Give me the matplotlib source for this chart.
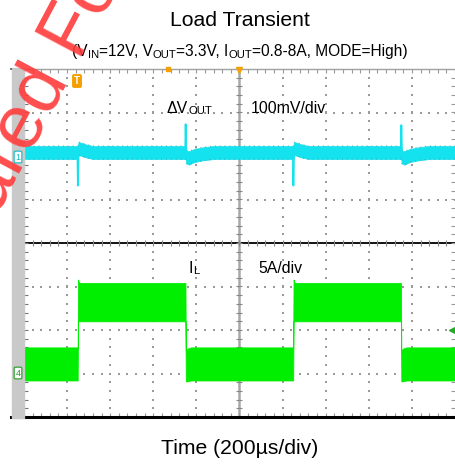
import matplotlib
matplotlib.use("Agg")
import matplotlib.pyplot as plt
from matplotlib.font_manager import FontProperties
from matplotlib.patches import Rectangle
import numpy as np

plt.rcParams["font.family"] = ["Liberation Sans", "DejaVu Sans"]

# --- data (time in us, IL in A, dVout in mV) ---
il_t = [0, 249, 251, 254, 262, 749, 751, 758, 775,
        1249, 1251, 1254, 1262, 1749, 1751, 1758, 1775, 2000]
il_up = [3.0, 3.0, 10.8, 10.5, 10.4, 10.4, 2.5, 2.85, 3.0,
         3.0, 10.8, 10.5, 10.4, 10.4, 2.5, 2.85, 3.0, 3.0]
il_dn = [-0.8, -0.8, 6.0, 6.0, 6.0, 6.0, -0.9, -0.9, -0.8,
         -0.8, 6.0, 6.0, 6.0, 6.0, -0.9, -0.9, -0.8, -0.8]

vo_t = [0, 250, 253, 262, 285, 320, 750, 753, 765, 790, 830, 880,
        1250, 1253, 1262, 1285, 1320, 1750, 1753, 1765, 1790, 1830, 1880, 2000]
vo_up = [15, 15, 24, 23, 19, 15, 15, 5, 3, 8, 12, 15,
         15, 24, 23, 19, 15, 15, 5, 3, 8, 12, 15, 15]
vo_dn = [-15, -15, -6, -7, -11, -15, -15, -25, -28, -22, -18, -15,
         -15, -6, -7, -11, -15, -15, -25, -28, -22, -18, -15, -15]

spk_t = [250, 750, 1250, 1751]
spk_v = [-76, 65, -76, 63]

# channel placement on the screen (divisions)
VO_OFS, VO_SCALE = 2.08, 100.0   # mV/div
IL_OFS, IL_SCALE = -3.0, 5.0     # A/div

W, H = 456, 466
CYAN, GREEN = "#14e2ee", "#00ee00"
ORANGE = "#f5a000"


def fx(px):
    return px / W


def fy(py):
    return 1 - py / H


fig = plt.figure(figsize=(W / 100, H / 100), dpi=100, facecolor="white")
ax = fig.add_axes([fx(24), fy(417), (455 - 24) / W, (417 - 69) / H])
ax.set_xlim(0, 2000)
ax.set_ylim(-4, 4)
ax.axis("off")

# gray strip on the left of the screen
fig.patches.append(Rectangle((fx(12), fy(418)), 12 / W, 350 / H,
                             transform=fig.transFigure, color="#c9c9c9",
                             zorder=0))

# dotted graticule
minor_x = np.arange(0, 2001, 40)
minor_y = np.arange(-4, 4.01, 0.2)
for gx in range(200, 2000, 200):
    if gx != 1000:
        ax.scatter(np.full(minor_y.size, gx), minor_y, s=1.2, marker="s",
                   color="#9a9a9a", linewidths=0, zorder=1)
for gy in (-3, -2, -1, 1, 2, 3):
    ax.scatter(minor_x, np.full(minor_x.size, gy), s=1.2, marker="s",
               color="#9a9a9a", linewidths=0, zorder=1)

# centre axes with ticks
ax.axhline(0, color="black", lw=1.3, zorder=2)
ax.axvline(1000, color="#a8a8a8", lw=1.8, zorder=2)
ax.plot(minor_x, np.zeros(minor_x.size), ls="none", marker="|", ms=5,
        mew=0.8, color="#888888", zorder=2)
ax.plot(np.full(minor_y.size, 1000), minor_y, ls="none", marker="_", ms=5,
        mew=0.8, color="#888888", zorder=2)

# frame
ax.plot([0, 0], [-4, 4], color="#555555", lw=1.4, clip_on=False, zorder=3)
ax.plot([0, 2000], [4, 4], color="#a0a0a0", lw=1.0, clip_on=False, zorder=3)
ax.plot([-60, 0], [4, 4], color="#444444", lw=1.2, clip_on=False, zorder=3)
ax.plot([-60, 2000], [-4, -4], color="black", lw=2.2, clip_on=False,
        zorder=3)
ax.plot(np.zeros(minor_y.size) + 10, minor_y, ls="none", marker="_", ms=3,
        mew=0.8, color="#777777", zorder=2)
ax.plot(minor_x, np.full(minor_x.size, 3.96), ls="none", marker="|", ms=3,
        mew=0.8, color="#999999", zorder=2)
ax.plot(minor_x, np.full(minor_x.size, -3.96), ls="none", marker="|", ms=3,
        mew=0.8, color="#999999", zorder=2)
ax.plot(np.full(minor_y.size, 1990), minor_y, ls="none", marker="_", ms=3,
        mew=0.8, color="#999999", zorder=2)

# inductor current band
il_up_d = IL_OFS + np.array(il_up) / IL_SCALE
il_dn_d = IL_OFS + np.array(il_dn) / IL_SCALE
ax.fill_between(il_t, il_dn_d, il_up_d, color=GREEN, lw=0.6,
                edgecolor=GREEN, zorder=4)

# output voltage band + spikes
vo_up_d = VO_OFS + np.array(vo_up) / VO_SCALE
vo_dn_d = VO_OFS + np.array(vo_dn) / VO_SCALE
ax.fill_between(vo_t, vo_dn_d, vo_up_d, color=CYAN, lw=0.5,
                edgecolor=CYAN, zorder=4)
ax.plot(vo_t, vo_up_d, color="#3aa8b2", lw=0.7, ls=(0, (1, 4)), zorder=4)
ax.plot(vo_t, vo_dn_d, color="#3aa8b2", lw=0.7, ls=(0, (1, 4)), zorder=4)
for t, v in zip(spk_t, spk_v):
    ax.plot([t - 2, t, t + 3], [VO_OFS, VO_OFS + v / VO_SCALE, VO_OFS],
            color=CYAN, lw=1.3, zorder=5)

# scope markers
ax.plot(1000, 3.97, marker="v", color=ORANGE, ms=5, clip_on=False, zorder=6)
ax.plot(668, 4.0, marker="s", color=ORANGE, ms=2.5, clip_on=False, zorder=6)
ax.plot(1986, -2.0, marker="<", color="#22aa22", ms=4, clip_on=False,
        zorder=6)
fig.text(fx(77), fy(81), "T", color="white", fontsize=7, weight="bold",
         ha="center", va="center", zorder=6,
         bbox=dict(boxstyle="round,pad=0.2", fc=ORANGE, ec="none"))
fig.text(fx(18), fy(373), "4", color="#1a9a1a", fontsize=6.5, ha="center",
         va="center", zorder=6,
         bbox=dict(boxstyle="round,pad=0.15", fc="white", ec="#1a9a1a",
                   lw=0.8))
fig.text(fx(18), fy(157), "1", color="#11b8c4", fontsize=6.5, ha="center",
         va="center", zorder=6,
         bbox=dict(boxstyle="round,pad=0.15", fc="white", ec="#11b8c4",
                   lw=0.8))


def runs(x, y, parts, size, ha="center", small=0.72):
    """Lay out text pieces (text, is_sub) on one baseline, pixel coords."""
    r = fig.canvas.get_renderer()
    sizes = [size * small if sub else size for _, sub in parts]
    widths = []
    for (s, sub), fs in zip(parts, sizes):
        w, _, _ = r.get_text_width_height_descent(
            s, FontProperties(family="Liberation Sans", size=fs), ismath=False)
        widths.append(w)
    cx = x - sum(widths) / 2 if ha == "center" else x
    for (s, sub), fs, w in zip(parts, sizes, widths):
        fig.text(fx(cx), fy(y + (1.5 if sub else 0)), s, fontsize=fs,
                 ha="left", va="baseline", color="black", zorder=7)
        cx += w


fig.text(fx(240), fy(26), "Load Transient", fontsize=15.2, ha="center",
         va="baseline")
runs(240, 56, [("(V", 0), ("IN", 1), ("=12V, V", 0), ("OUT", 1),
               ("=3.3V, I", 0), ("OUT", 1), ("=0.8-8A, MODE=High)", 0)], 11.2)
fig.text(fx(240), fy(454), "Time (200\u00b5s/div)", fontsize=15.2,
         ha="center", va="baseline")

runs(167, 113, [("\u0394V", 0), ("OUT", 1)], 11.4, ha="left")
fig.text(fx(251), fy(113), "100mV/div", fontsize=11.4, ha="left",
         va="baseline")
runs(189, 273, [("I", 0), ("L", 1)], 11.4, ha="left")
fig.text(fx(258), fy(273), "5A/div", fontsize=11.4, ha="left",
         va="baseline")

# red watermark crossing the top-left corner: baseline start placed so that
# the "a" of "Prepared" sits at the left edge near y=215
WM_SIZE, WM_ANGLE = 55, 62
r = fig.canvas.get_renderer()
pre_w, _, _ = r.get_text_width_height_descent(
    "Prep", FontProperties(family="Liberation Sans", size=WM_SIZE),
    ismath=False)
ang = np.deg2rad(WM_ANGLE)
sx = -2 - pre_w * np.cos(ang)
sy = 215 + pre_w * np.sin(ang)
fig.text(fx(sx), fy(sy), "Prepared For", rotation=WM_ANGLE,
         rotation_mode="anchor", ha="left", va="baseline", fontsize=WM_SIZE,
         color="#ff3a3a", alpha=0.9, zorder=10)

fig.savefig("out.png", dpi=100, facecolor="white")
